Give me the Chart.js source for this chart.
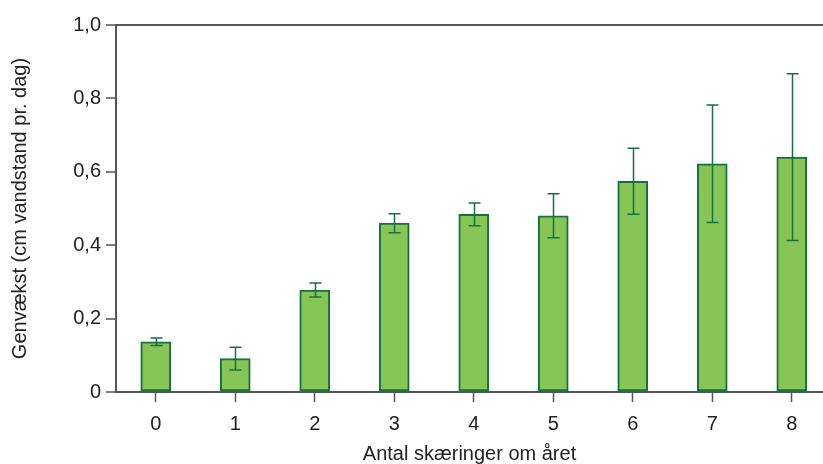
<!DOCTYPE html>
<html lang="da">
<head>
    <meta charset="UTF-8">
    <title>Genvækst</title>
    <script src="https://cdn.jsdelivr.net/npm/chart.js"></script>
    <style>
        body {
            margin: 0;
            padding: 0;
            background-color: #fff;
        }
        .chart-box {
            width: 823px;
            height: 464px;
        }
    </style>
</head>
<body>
    <div class="chart-box">
        <canvas id="growthChart"></canvas>
    </div>
    <script>
        // data
        const categories = [0, 1, 2, 3, 4, 5, 6, 7, 8];
        const growth = [0.137, 0.091, 0.278, 0.460, 0.484, 0.480, 0.574, 0.622, 0.640];
        const errors = [0.010, 0.031, 0.019, 0.026, 0.031, 0.060, 0.090, 0.160, 0.227];
        const yTickValues = [0, 0.2, 0.4, 0.6, 0.8, 1.0];
        const yTickLabels = ['0', '0,2', '0,4', '0,6', '0,8', '1,0'];

        const axisColor = '#555';
        const barFill = '#88c557';
        const barEdge = '#16703f';

        // error bars drawn on top of the bars
        const errorBarPlugin = {
            id: 'errorBars',
            afterDatasetsDraw(chart) {
                const ctx = chart.ctx;
                const xs = chart.scales.x;
                const ys = chart.scales.y;
                ctx.save();
                ctx.strokeStyle = barEdge;
                ctx.lineWidth = 1.5;
                categories.forEach(function(c, i) {
                    const x = Math.round(xs.getPixelForValue(c)) + 0.5;
                    const top = ys.getPixelForValue(growth[i] + errors[i]);
                    const bot = ys.getPixelForValue(growth[i] - errors[i]);
                    ctx.beginPath();
                    ctx.moveTo(x, top);
                    ctx.lineTo(x, bot);
                    ctx.moveTo(x - 6, top);
                    ctx.lineTo(x + 6, top);
                    ctx.moveTo(x - 6, bot);
                    ctx.lineTo(x + 6, bot);
                    ctx.stroke();
                });
                ctx.restore();
            }
        };

        const font = { family: '"Liberation Sans", Arial, sans-serif', size: 20 };

        const ctx = document.getElementById('growthChart').getContext('2d');
        const growthChart = new Chart(ctx, {
            type: 'bar',
            data: {
                datasets: [{
                    data: categories.map(function(c, i) { return { x: c, y: growth[i] }; }),
                    backgroundColor: barFill,
                    borderColor: barEdge,
                    borderWidth: 2,
                    borderSkipped: false,
                    barThickness: 30
                }]
            },
            options: {
                responsive: true,
                maintainAspectRatio: false,
                animation: false,
                layout: {
                    padding: { top: 25, left: 6, right: 0, bottom: 0 }
                },
                plugins: {
                    legend: { display: false },
                    tooltip: { enabled: false }
                },
                scales: {
                    x: {
                        type: 'linear',
                        offset: false,
                        min: -0.5,
                        max: 8.393,
                        afterBuildTicks: function(scale) {
                            scale.ticks = categories.map(function(c) { return { value: c }; });
                        },
                        afterFit: function(scale) {
                            scale.height = 72;
                        },
                        ticks: {
                            color: '#222',
                            font: font,
                            padding: 10,
                            maxRotation: 0,
                            callback: function(v) { return String(v); }
                        },
                        grid: {
                            offset: false,
                            drawOnChartArea: false,
                            tickLength: 10,
                            tickColor: axisColor,
                            tickWidth: 1.5
                        },
                        border: { color: axisColor, width: 2 },
                        title: {
                            display: true,
                            text: 'Antal skæringer om året',
                            color: '#222',
                            font: font,
                            padding: { top: 0, bottom: -2 }
                        }
                    },
                    y: {
                        min: 0,
                        max: 1,
                        afterBuildTicks: function(scale) {
                            scale.ticks = yTickValues.map(function(v) { return { value: v }; });
                        },
                        afterFit: function(scale) {
                            scale.width = 110;
                        },
                        ticks: {
                            color: '#222',
                            font: font,
                            padding: 5,
                            callback: function(v, i) { return yTickLabels[i]; }
                        },
                        grid: {
                            drawOnChartArea: true,
                            color: function(c) { return c.tick && c.tick.value === 1 ? axisColor : 'rgba(0,0,0,0)'; },
                            lineWidth: 2,
                            tickLength: 10,
                            tickColor: axisColor,
                            tickWidth: 1.5
                        },
                        border: { color: axisColor, width: 2 },
                        title: {
                            display: true,
                            text: 'Genvækst (cm vandstand pr. dag)',
                            color: '#222',
                            font: font,
                            padding: { top: 2, bottom: 4 }
                        }
                    }
                }
            },
            plugins: [errorBarPlugin]
        });
    </script>
</body>
</html>
